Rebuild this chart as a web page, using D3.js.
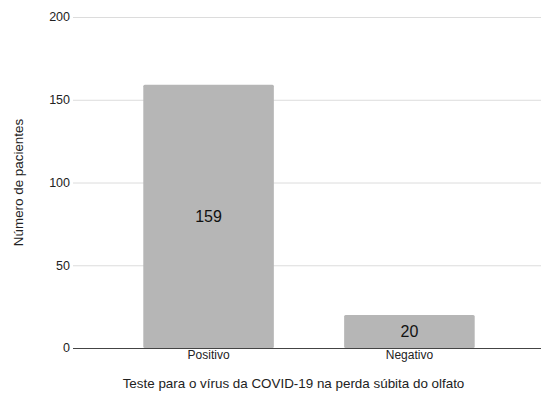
<!DOCTYPE html>
<html>
<head>
<meta charset="utf-8">
<script src="https://cdn.jsdelivr.net/npm/d3@7"></script>
<style>
  html, body { margin: 0; padding: 0; background: #fff; }
  svg { display: block; font-family: "Liberation Sans", Arial, Helvetica, sans-serif; }
</style>
</head>
<body>
<svg id="chart" width="541" height="397"></svg>
<script>
const categories = ["Positivo", "Negativo"];
const values = [159, 20];
const yTicks = [0, 50, 100, 150, 200];
const xTitle = "Teste para o vírus da COVID-19 na perda súbita do olfato";
const yTitle = "Número de pacientes";

const svg = d3.select("#chart");
const plotLeft = 73, plotRight = 545, plotTop = 17, plotBottom = 348;

const x = d3.scaleBand().domain(categories).range([plotLeft, plotRight])
  .paddingInner(0.35).paddingOuter(0.35);
const y = d3.scaleLinear().domain([0, 200]).range([plotBottom, plotTop]);

// horizontal gridlines
svg.append("g").selectAll("line").data(yTicks.filter(d => d !== 0)).join("line")
  .attr("x1", plotLeft).attr("x2", 541)
  .attr("y1", d => y(d) + 0.5).attr("y2", d => y(d) + 0.5)
  .attr("stroke", "#dcdcdc").attr("stroke-width", 1);

// y tick labels
svg.append("g").selectAll("text").data(yTicks).join("text")
  .attr("x", plotLeft - 3).attr("y", d => y(d))
  .attr("dy", "0.35em").attr("text-anchor", "end")
  .attr("font-size", 12.5).attr("fill", "#222")
  .text(d => d);

// bars
svg.append("g").selectAll("rect").data(values).join("rect")
  .attr("x", (d, i) => x(categories[i]))
  .attr("y", d => y(d))
  .attr("width", x.bandwidth())
  .attr("height", d => y(0) - y(d))
  .attr("rx", 1.5)
  .attr("fill", "#b6b6b6");

// value labels centred in bars
svg.append("g").selectAll("text").data(values).join("text")
  .attr("x", (d, i) => x(categories[i]) + x.bandwidth() / 2)
  .attr("y", d => (y(d) + y(0)) / 2)
  .attr("dy", "0.35em").attr("text-anchor", "middle")
  .attr("font-size", 16).attr("fill", "#111")
  .text(d => d);

// baseline
svg.append("line")
  .attr("x1", plotLeft).attr("x2", 541)
  .attr("y1", y(0) + 0.5).attr("y2", y(0) + 0.5)
  .attr("stroke", "#444").attr("stroke-width", 1);

// category labels
svg.append("g").selectAll("text").data(categories).join("text")
  .attr("x", d => x(d) + x.bandwidth() / 2)
  .attr("y", 355).attr("dy", "0.35em").attr("text-anchor", "middle")
  .attr("font-size", 12).attr("fill", "#222")
  .text(d => d);

// axis titles
svg.append("text")
  .attr("x", 293.5).attr("y", 383).attr("dy", "0.35em")
  .attr("text-anchor", "middle").attr("font-size", 13.4).attr("fill", "#222")
  .text(xTitle);

svg.append("text")
  .attr("transform", `translate(18,${(plotTop + plotBottom) / 2}) rotate(-90)`)
  .attr("dy", "0.35em").attr("text-anchor", "middle")
  .attr("font-size", 13.4).attr("fill", "#222")
  .text(yTitle);
</script>
</body>
</html>
